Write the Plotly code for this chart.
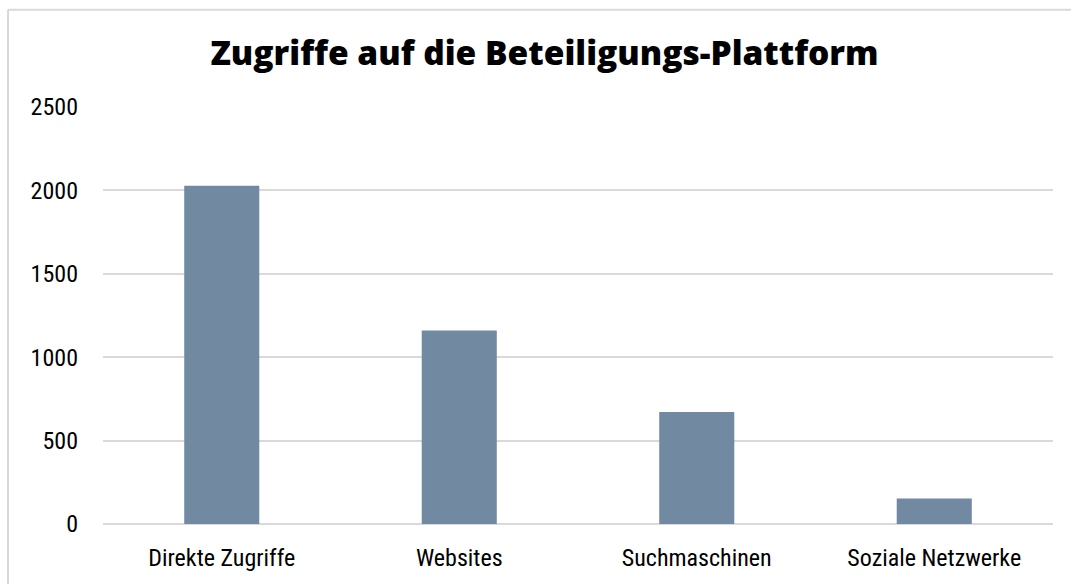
import plotly.graph_objects as go

categories = ["Direkte Zugriffe", "Websites", "Suchmaschinen", "Soziale Netzwerke"]
values = [2028, 1160, 672, 153]
y_ticks = [0, 500, 1000, 1500, 2000, 2500]

tick_font = dict(family="Roboto Condensed, Liberation Sans Narrow, sans-serif", size=24, weight=400, color="#000000")

fig = go.Figure(go.Bar(
    x=categories, y=values,
    marker=dict(color="#7189a1", line=dict(width=0)),
    hoverinfo="x+y",
))

frame_left = (8 - 103) / 950
frame_top = (527 - 9) / 420

fig.update_layout(
    width=1071, height=584,
    margin=dict(l=103, r=18, t=107, b=57),
    paper_bgcolor="white", plot_bgcolor="white",
    bargap=0.684,
    showlegend=False,
    title=dict(
        text="Zugriffe auf die Beteiligungs-Plattform",
        x=544.5 / 1071, xanchor="center", xref="container",
        y=1 - 53 / 584, yanchor="middle", yref="container",
        font=dict(family="Open Sans, Inter, sans-serif", size=33.5, weight=800, color="#000000"),
    ),
    xaxis=dict(
        showgrid=False, zeroline=False, showline=False,
        tickfont=tick_font, ticks="", ticklabelstandoff=17,
    ),
    yaxis=dict(
        range=[0, 2500], tickvals=y_ticks, ticktext=[str(v) for v in y_ticks],
        showgrid=True, gridcolor="#d9d9d9", gridwidth=1.5,
        zeroline=True, zerolinecolor="#d9d9d9", zerolinewidth=1.5,
        showline=False, ticks="", tickfont=tick_font, ticklabelstandoff=24,
    ),
    shapes=[
        dict(type="line", xref="paper", yref="paper",
             x0=frame_left, x1=frame_left, y0=-0.5, y1=frame_top,
             line=dict(color="#d9d9d9", width=2), layer="below"),
        dict(type="line", xref="paper", yref="paper",
             x0=frame_left, x1=1.3, y0=frame_top, y1=frame_top,
             line=dict(color="#d9d9d9", width=2), layer="below"),
    ],
)

fig.write_html("out.html",
               post_script="document.body.style.margin='0';document.body.style.overflow='hidden';",
               config={"displayModeBar": False})
